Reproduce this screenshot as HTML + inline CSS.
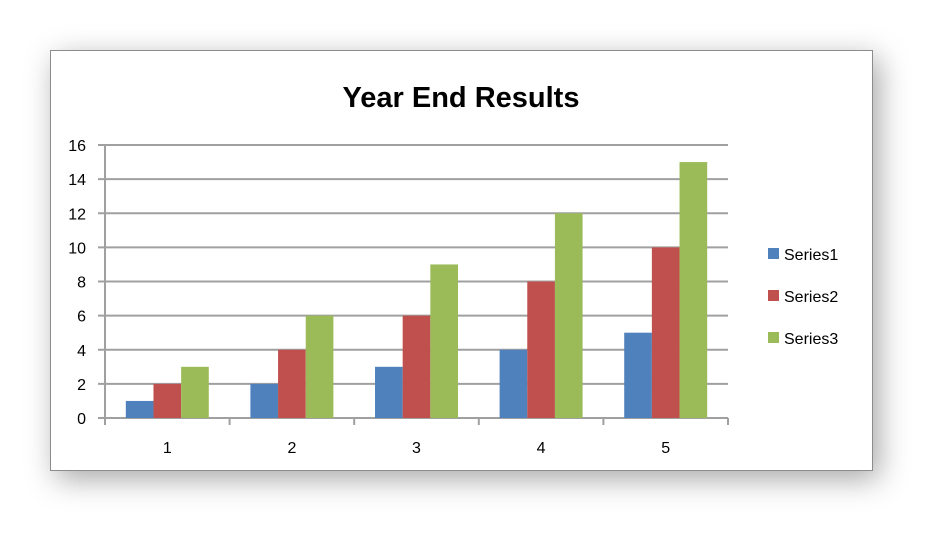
<!DOCTYPE html>
<html><head><meta charset="utf-8"><style>
body{margin:0;width:939px;height:537px;background:#fff;overflow:hidden;font-family:"Liberation Sans",sans-serif}
#frame{position:absolute;left:50px;top:50px;width:821px;height:419px;border:1px solid #8c8c8c;background:#fff;box-shadow:6px 8px 28px rgba(0,0,0,0.35)}
svg{position:absolute;left:0;top:0}
</style></head><body>
<div id="frame"></div>
<svg id="chart" width="939" height="537">
<text x="461" y="107" text-anchor="middle" font-size="29" font-weight="bold" fill="#000">Year End Results</text>
</svg>
<script>
const categories=["1","2","3","4","5"];
const series1=[1,2,3,4,5];
const series2=[2,4,6,8,10];
const series3=[3,6,9,12,15];
const seriesNames=["Series1","Series2","Series3"];
const colors=["#4f81bd","#c0504d","#9bbb59"];
const yTicks=[0,2,4,6,8,10,12,14,16];
const svg=document.getElementById('chart');
const NS='http://www.w3.org/2000/svg';
const X0=105,X1=728,Y0=418,Y1=145,YMAX=16;
const catW=(X1-X0)/categories.length;
const y=v=>Y0-(v/YMAX)*(Y0-Y1);
function mk(t,a){const e=document.createElementNS(NS,t);for(const k in a)e.setAttribute(k,a[k]);svg.appendChild(e);return e;}
yTicks.forEach(t=>{
 const l=mk('line',{x1:98,x2:X1,y1:y(t),y2:y(t),stroke:'#a0a0a0','stroke-width':2});
 
 
 const tx=mk('text',{x:86,y:y(t)+6,'text-anchor':'end','font-size':16,fill:'#000'});
 tx.textContent=t;
 
 
});
const ax=mk('line',{x1:X0,x2:X0,y1:Y1,y2:Y0+7,stroke:'#a0a0a0','stroke-width':2});


for(let i=0;i<=categories.length;i++){
 const tk=mk('line',{x1:X0+i*catW,x2:X0+i*catW,y1:Y0,y2:Y0+7,stroke:'#a0a0a0','stroke-width':2});
 
 
}
const all=[series1,series2,series3];
const bw=catW*0.222,gap=(catW-3*bw)/2;
categories.forEach((c,i)=>{
 all.forEach((s,j)=>{
  const r=mk('rect',{x:X0+i*catW+gap+j*bw,y:y(s[i]),width:bw,height:Y0-y(s[i]),fill:colors[j]});
  
  
 });
 const t=mk('text',{x:X0+(i+0.5)*catW,y:453,'text-anchor':'middle','font-size':16,fill:'#000'});
 t.textContent=c;
 
 
});
seriesNames.forEach((n,j)=>{
 const cy=254+j*42;
 const r=mk('rect',{x:768,y:cy-6,width:11,height:11,fill:colors[j]});
 
 
 const t=mk('text',{x:784,y:cy+6,'font-size':16,fill:'#000'});
 t.textContent=n;
 
 
});
</script>
</body></html>
